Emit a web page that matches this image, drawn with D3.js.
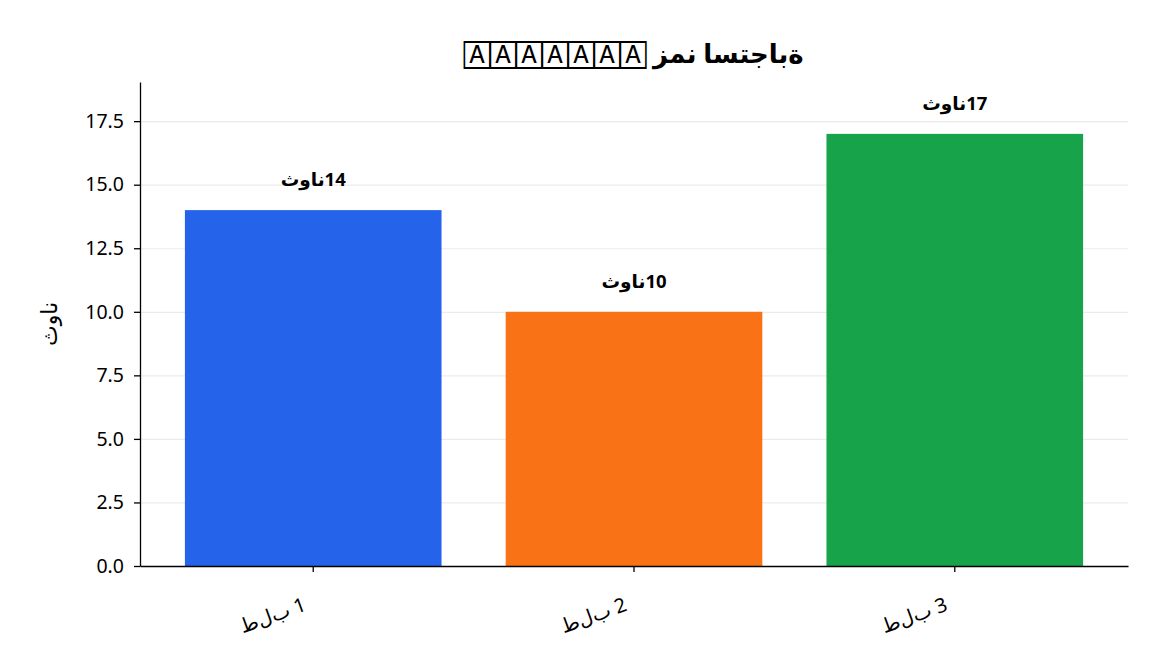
<!DOCTYPE html>
<html>
<head>
<meta charset="utf-8">
<script src="https://cdn.jsdelivr.net/npm/d3@7"></script>
<style>
    body { margin: 0; background: #fff; }
    text { font-family: "Noto Sans", "DejaVu Sans", sans-serif; }
    .ltr { unicode-bidi: bidi-override; direction: ltr; }
    .grid line { stroke: #ebebeb; stroke-width: 1.2; }
    .grid .domain { display: none; }
</style>
</head>
<body>
<div id="chart-area"></div>
<script>
/*
*    Response time per request (bar chart)
*/

// Data
var categories = ["طلب 1", "طلب 2", "طلب 3"];
var values = [14, 10, 17];
var unitText = "ثوان";
var colors = ["#2563eb", "#f97316", "#16a34a"];
var yTicks = [0, 2.5, 5, 7.5, 10, 12.5, 15, 17.5];
var titleBoxes = "🄰🄰🄰🄰🄰🄰🄰";
var titleText = "زمن استجابة";
var yLabelText = "ثوان";

// Letters drawn one by one, left to right, not joined
function isolate(s) {
    return s.split("").join("\u200C");
}

var margin = { left:140, right:24, top:82, bottom:106 };

var width = 1152 - margin.left - margin.right,
    height = 672 - margin.top - margin.bottom;

var svg = d3.select("#chart-area")
    .append("svg")
        .attr("width", 1152)
        .attr("height", 672);

var g = svg.append("g")
    .attr("transform", "translate(" + margin.left + ", " + margin.top + ")");

// X Scale
var x = d3.scaleBand()
    .domain(categories)
    .range([0, width])
    .paddingInner(0.2)
    .paddingOuter(0.14);

// Y Scale
var y = d3.scaleLinear()
    .domain([0, d3.max(values) * 1.12])
    .range([height, 0]);

// Gridlines
g.append("g")
    .attr("class", "grid")
    .call(d3.axisLeft(y).tickValues(yTicks).tickSize(-width).tickFormat(""));

// Bars
g.selectAll("rect.bar")
    .data(values)
    .enter()
    .append("rect")
        .attr("class", "bar")
        .attr("x", function(d, i){ return x(categories[i]); })
        .attr("y", function(d){ return y(d); })
        .attr("width", x.bandwidth())
        .attr("height", function(d){ return height - y(d); })
        .attr("fill", function(d, i){ return colors[i]; });

// Value labels
g.selectAll("text.value")
    .data(values)
    .enter()
    .append("text")
        .attr("class", "value ltr")
        .attr("x", function(d, i){ return x(categories[i]) + x.bandwidth() / 2; })
        .attr("y", function(d){ return y(d) - 24; })
        .attr("text-anchor", "middle")
        .attr("font-size", "18.5px")
        .attr("font-weight", "bold")
        .text(function(d){ return unitText + d; });

// X Axis
var xAxisGroup = g.append("g")
    .attr("class", "x axis")
    .attr("transform", "translate(0," + height + ")")
    .call(d3.axisBottom(x).tickSize(6).tickSizeOuter(0));

xAxisGroup.selectAll("text")
    .attr("class", "ltr")
    .attr("font-size", "20px")
    .attr("fill", "#000")
    .attr("text-anchor", "end")
    .attr("y", 0)
    .attr("dy", 0)
    .attr("transform", "translate(-6,44) rotate(-20)")
    .text(function(d){ return isolate(d); });

// Y Axis
var yAxisGroup = g.append("g")
    .attr("class", "y axis")
    .call(d3.axisLeft(y).tickValues(yTicks).tickSize(6).tickSizeOuter(0)
        .tickFormat(d3.format(".1f")));

yAxisGroup.selectAll("text")
    .attr("font-size", "19.5px")
    .attr("fill", "#000")
    .attr("x", -16);

g.selectAll(".axis line, .axis path")
    .attr("stroke", "#000")
    .attr("stroke-width", 1.3);

// Y Label
g.append("text")
    .attr("class", "ltr")
    .attr("y", -91)
    .attr("dy", "0.35em")
    .attr("x", -(height / 2))
    .attr("font-size", "22px")
    .attr("text-anchor", "middle")
    .attr("transform", "rotate(-90)")
    .text(yLabelText);

// Title
var title = g.append("text")
    .attr("class", "ltr")
    .attr("x", width / 2)
    .attr("y", -19)
    .attr("font-size", "26px")
    .attr("font-weight", "bold")
    .attr("text-anchor", "middle");

title.append("tspan")
    .attr("font-size", "24px")
    .attr("font-weight", "normal")
    .attr("letter-spacing", "6px")
    .text(titleBoxes);

title.append("tspan")
    .text(" " + titleText);
</script>
</body>
</html>
